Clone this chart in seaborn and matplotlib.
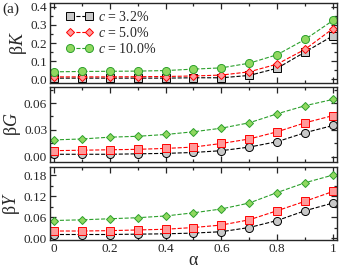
import numpy as np
import pandas as pd
import matplotlib
matplotlib.use("Agg")
import matplotlib.pyplot as plt
import seaborn as sns

alpha = [0, 0.1, 0.2, 0.3, 0.4, 0.5, 0.6, 0.7, 0.8, 0.9, 1.0]
labels = ["3.2%", "5.0%", "10.0%"]

# beta*K
K_32 = [0.005, 0.005, 0.005, 0.005, 0.005, 0.007, 0.007, 0.02, 0.06, 0.15, 0.24]
K_50 = [0.012, 0.012, 0.012, 0.013, 0.014, 0.017, 0.022, 0.04, 0.083, 0.165, 0.28]
K_100 = [0.04, 0.042, 0.043, 0.044, 0.047, 0.055, 0.062, 0.088, 0.135, 0.22, 0.325]

# beta*G
G_32 = [0.003, 0.003, 0.003, 0.0035, 0.004, 0.005, 0.007, 0.011, 0.017, 0.027, 0.035]
G_50 = [0.007, 0.0075, 0.008, 0.0085, 0.0095, 0.011, 0.015, 0.02, 0.028, 0.038, 0.046]
G_100 = [0.019, 0.020, 0.022, 0.023, 0.025, 0.028, 0.032, 0.038, 0.048, 0.057, 0.064]

# beta*Y
Y_32 = [0.01, 0.01, 0.01, 0.011, 0.012, 0.014, 0.018, 0.03, 0.05, 0.078, 0.1]
Y_50 = [0.02, 0.02, 0.021, 0.023, 0.025, 0.03, 0.037, 0.052, 0.078, 0.105, 0.133]
Y_100 = [0.05, 0.052, 0.055, 0.058, 0.063, 0.072, 0.083, 0.1, 0.13, 0.158, 0.18]

sns.set_style("ticks")
plt.rcParams["font.family"] = ["Liberation Serif", "DejaVu Serif"]
plt.rcParams["mathtext.fontset"] = "custom"
plt.rcParams["mathtext.rm"] = "Liberation Serif"
plt.rcParams["mathtext.it"] = "Liberation Serif:italic"
plt.rcParams["xtick.direction"] = "in"
plt.rcParams["ytick.direction"] = "in"

# (edge, face)
black = ("#000000", "#c8c8c8")
red = ("#ff0000", "#ff9a9a")
green = ("#2ca02c", "#90d860")
msize = {"s": 5.2, "o": 5.8, "D": 4.4}

fig = plt.figure(figsize=(3.41, 2.68), dpi=100)
ax1 = fig.add_axes([0.1466, 0.6903, 0.8416, 0.2985])
ax2 = fig.add_axes([0.1466, 0.3955, 0.8416, 0.2799])
ax3 = fig.add_axes([0.1466, 0.1045, 0.8416, 0.2724])


def draw(ax, ys, markers, colors, legend=False):
    for y, m, (ec, fc), lab in zip(ys, markers, colors, labels):
        df = pd.DataFrame({"alpha": alpha, "v": y})
        sns.lineplot(data=df, x="alpha", y="v", ax=ax, color=ec, linestyle="--",
                     linewidth=0.8, marker=m, markersize=msize[m],
                     markerfacecolor=fc, markeredgecolor=ec, markeredgewidth=0.7,
                     label=r"$c$ = " + lab if legend else None)
    ax.set_xlim(-0.0143, 1.0143)
    ax.set_xticks([0, 0.2, 0.4, 0.6, 0.8, 1.0])
    ax.set_xticks(np.arange(0.1, 1.0, 0.2), minor=True)
    ax.tick_params(which="both", top=True, right=True, labelsize=9.5, pad=2,
                   width=0.9)
    ax.tick_params(which="major", length=4)
    ax.tick_params(which="minor", length=2.5)
    for s in ax.spines.values():
        s.set_linewidth(1.0)
    ax.set_xlabel("")


draw(ax1, [K_32, K_50, K_100], ["s", "D", "o"], [black, red, green], legend=True)
ax1.set_ylim(-0.022, 0.422)
ax1.set_yticks([0.0, 0.1, 0.2, 0.3, 0.4])
ax1.set_yticks([0.05, 0.15, 0.25, 0.35], minor=True)
ax1.set_yticklabels(["0.0", "0.1", "0.2", "0.3", "0.4"])
ax1.set_xticklabels([])
ax1.set_ylabel(r"$\mathrm{\beta}K$", fontsize=13, labelpad=1)
ax1.legend(loc="upper left", bbox_to_anchor=(0.055, 0.91), frameon=False,
           fontsize=10, numpoints=2, handlelength=2.0, borderaxespad=0,
           labelspacing=0.12, handletextpad=0.3, borderpad=0)
fig.text(0.008, 0.99, "(a)", fontsize=11, va="top")

draw(ax2, [G_32, G_50, G_100], ["o", "s", "D"], [black, red, green])
ax2.set_ylim(-0.0056, 0.0778)
ax2.set_yticks([0.0, 0.03, 0.06])
ax2.set_yticks([0.015, 0.045, 0.075], minor=True)
ax2.set_yticklabels(["0.00", "0.03", "0.06"])
ax2.set_xticklabels([])
ax2.set_ylabel(r"$\mathrm{\beta}G$", fontsize=13, labelpad=1)

draw(ax3, [Y_32, Y_50, Y_100], ["o", "s", "D"], [black, red, green])
ax3.set_ylim(-0.0057, 0.203)
ax3.set_yticks([0.0, 0.06, 0.12, 0.18])
ax3.set_yticks([0.03, 0.09, 0.15], minor=True)
ax3.set_yticklabels(["0.00", "0.06", "0.12", "0.18"])
ax3.set_xticklabels(["0", "0.2", "0.4", "0.6", "0.8", "1"])
ax3.set_ylabel(r"$\mathrm{\beta}Y$", fontsize=13, labelpad=1)
ax3.set_xlabel(r"$\mathrm{\alpha}$", fontsize=13, labelpad=-2)

fig.savefig("out.png", dpi=100)
